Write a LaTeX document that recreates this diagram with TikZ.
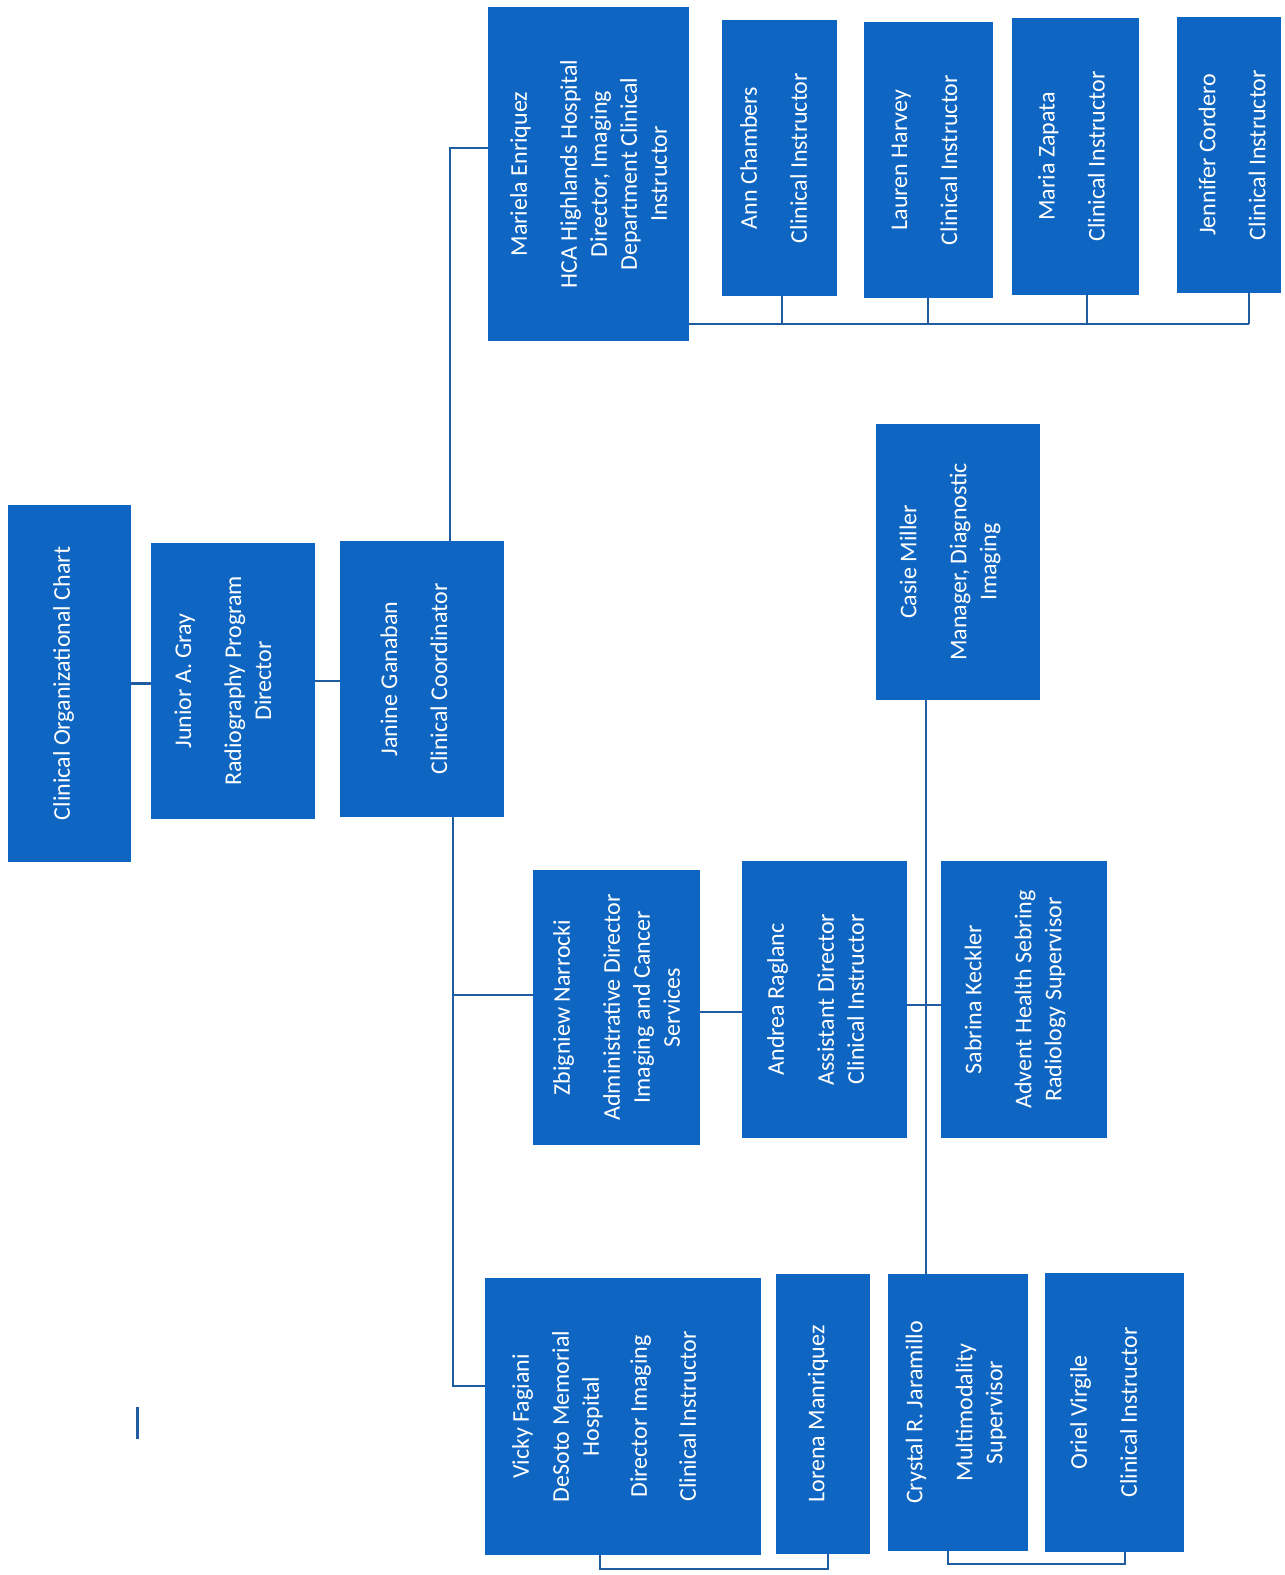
\documentclass[tikz,border=0pt]{standalone}
\usepackage{fontspec}
\newfontfamily\carlito{Carlito}
\definecolor{boxblue}{RGB}{14,102,194}
\definecolor{linkblue}{RGB}{32,92,160}
\tikzset{
  orgbox/.style={fill=boxblue, draw=none, inner sep=0pt, outer sep=0pt},
  orgtext/.style={text=white, rotate=90, align=center, inner sep=0pt,
    font=\carlito\fontsize{24}{30}\selectfont},
  link/.style={draw=linkblue, line width=2.5pt},
}
% name, x1, y1, x2, y2, text shift, text
\newcommand{\orgnode}[7]{%
  \node[orgbox, minimum width={(#4-#2)*1pt}, minimum height={(#5-#3)*1pt}] (#1) at ({(#2+#4)/2},{(#3+#5)/2}) {};
  \node[orgtext] (#1-t) at ([xshift=#6pt]#1.center) {#7};
}
\begin{document}
\begin{tikzpicture}[x={(1pt,0)}, y={(0,-1pt)}]
\useasboundingbox[fill=white] (0,0) rectangle (1285,1575);

% boxes
\orgnode{chart}{8}{505}{131}{862}{-6}{Clinical Organizational Chart}
\orgnode{junior}{151}{543}{315}{819}{-10}{Junior A. Gray\\[20pt]Radiography Program\\Director}
\orgnode{janine}{340}{541}{504}{817}{-8}{Janine Ganaban\\[20pt]Clinical Coordinator}
\orgnode{mariela}{488}{7}{689}{341}{0}{Mariela Enriquez\\[20pt]HCA Highlands Hospital\\Director, Imaging\\Department Clinical\\Instructor}
\orgnode{ann}{722}{20}{837}{296}{-6}{Ann Chambers\\[20pt]Clinical Instructor}
\orgnode{lauren}{864}{22}{993}{298}{-4}{Lauren Harvey\\[20pt]Clinical Instructor}
\orgnode{maria}{1012}{18}{1139}{295}{-4}{Maria Zapata\\[20pt]Clinical Instructor}
\orgnode{jennifer}{1177}{17}{1281}{293}{3}{Jennifer Cordero\\[20pt]Clinical Instructor}
\orgnode{casie}{876}{424}{1040}{700}{-8}{Casie Miller\\[20pt]Manager, Diagnostic\\Imaging}
\orgnode{zbig}{533}{870}{700}{1145}{0}{Zbigniew Narrocki\\[20pt]Administrative Director\\Imaging and Cancer\\Services}
\orgnode{andrea}{742}{861}{907}{1138}{-9}{Andrea Raglanc\\[20pt]Assistant Director\\Clinical Instructor}
\orgnode{sabrina}{941}{861}{1107}{1138}{-9}{Sabrina Keckler\\[20pt]Advent Health Sebring\\Radiology Supervisor}
\orgnode{vicky}{485}{1278}{761}{1555}{-19}{Vicky Fagiani\\[10pt]DeSoto Memorial\\Hospital\\[18pt]Director Imaging\\[19pt]Clinical Instructor}
\orgnode{lorena}{776}{1274}{870}{1554}{-5}{Lorena Manriquez}
\orgnode{crystal}{888}{1274}{1028}{1551}{-2}{Crystal R. Jaramillo\\[20pt]Multimodality\\Supervisor}
\orgnode{oriel}{1045}{1273}{1184}{1552}{-11}{Oriel Virgile\\[20pt]Clinical Instructor}

% junction coordinates
\coordinate (up) at (450,148);
\coordinate (dn) at (453,1386);
\coordinate (zb) at (452,995);
\coordinate (za) at (0,1012);
\coordinate (as) at (0,1005);
\coordinate (cv) at (926,0);
\coordinate (bus) at (0,324);
\coordinate (d1) at (782,324);
\coordinate (d2) at (928,324);
\coordinate (d3) at (1087,324);
\coordinate (d4) at (1249,324);
\coordinate (vl1) at (600,1569);
\coordinate (vl2) at (828,1569);
\coordinate (co1) at (948,1564);
\coordinate (co2) at (1125,1564);
\coordinate (m1) at (137,1407);
\coordinate (m2) at (137,1439);

% connectors
\draw[link] (chart.east) -- (chart.east -| junior.west);
\draw[link] (junior.east) -- (junior.east -| janine.west);
\draw[link] (janine.north -| up) -- (up) -- (up -| mariela.west);
\draw[link] (janine.south -| dn) -- (dn) -- (dn -| vicky.west);
\draw[link] (zb) -- (zb -| zbig.west);
\draw[link] (zbig.east |- za) -- (andrea.west |- za);
\draw[link] (andrea.east |- as) -- (sabrina.west |- as);
\draw[link] (casie.south -| cv) -- (crystal.north -| cv);
\draw[link] (mariela.east |- bus) -- (d4);
\draw[link] (d1) -- (d1 |- ann.south);
\draw[link] (d2) -- (d2 |- lauren.south);
\draw[link] (d3) -- (d3 |- maria.south);
\draw[link] (d4) -- (d4 |- jennifer.south);
\draw[link] (vicky.south -| vl1) -- (vl1) -- (vl2) -- (lorena.south -| vl2);
\draw[link] (crystal.south -| co1) -- (co1) -- (co2) -- (oriel.south -| co2);
\draw[link, line width=3pt] (m1) -- (m2);
\end{tikzpicture}
\end{document}
